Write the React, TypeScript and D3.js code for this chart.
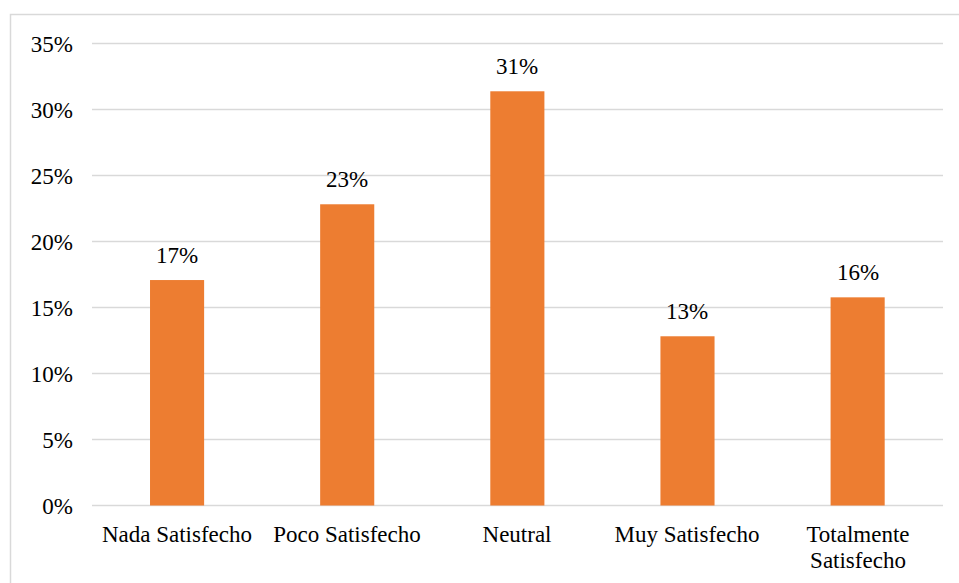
import React from "react";
import * as d3 from "d3";

const categories: string[][] = [
  ["Nada Satisfecho"],
  ["Poco Satisfecho"],
  ["Neutral"],
  ["Muy Satisfecho"],
  ["Totalmente", "Satisfecho"],
];
const values: number[] = [17.08, 22.82, 31.38, 12.82, 15.77];
const yTicks: number[] = [0, 5, 10, 15, 20, 25, 30, 35];

const W = 959;
const H = 583;
const margin = { left: 92, right: 16, top: 43.5, bottom: 77.5 };
const FONT = "Liberation Serif";
const FS = 23;

function Label(props: { x: number; y: number; anchor: string; children: React.ReactNode }) {
  return (
    <text
      x={Math.round(props.x)}
      y={Math.round(props.y)}
      textAnchor={props.anchor}
      style={{ fontFamily: FONT, fontSize: FS }}
      fill="#000"
    >
      {props.children}
    </text>
  );
}

export default function App() {
  const x = d3
    .scaleBand<number>()
    .domain(d3.range(values.length))
    .range([margin.left, W - margin.right - 0.3])
    .paddingInner(0.682)
    .paddingOuter(0.341);
  const y = d3.scaleLinear().domain([0, 35]).range([H - margin.bottom, margin.top]);

  return (
    <svg width={W} height={H} style={{ position: "absolute", left: 0, top: 0, display: "block" }}>
      <rect x={0} y={0} width={W} height={H} fill="#fff" />
      {/* chart frame */}
      <path d={`M10.5,${H} V14.5 H${W}`} fill="none" stroke="#d9d9d9" strokeWidth={1.5} />
      {yTicks.map((t) => (
        <g key={t}>
          <line
            x1={margin.left}
            x2={W - margin.right}
            y1={y(t)}
            y2={y(t)}
            stroke="#d9d9d9"
            strokeWidth={1.6}
          />
          <Label x={73} y={y(t) + 8} anchor="end">
            {`${t}%`}
          </Label>
        </g>
      ))}
      {values.map((v, i) => {
        const bx = x(i)!;
        const bw = x.bandwidth();
        const cx = bx + bw / 2;
        return (
          <g key={i}>
            <rect x={bx} y={y(v)} width={bw} height={y(0) - y(v)} fill="#ED7D31" />
            <Label x={cx} y={y(v) - 17.5} anchor="middle">
              {`${Math.round(v)}%`}
            </Label>
            {categories[i].map((line, j) => (
              <Label key={j} x={cx} y={541.5 + j * 26.7} anchor="middle">
                {line}
              </Label>
            ))}
          </g>
        );
      })}
    </svg>
  );
}
